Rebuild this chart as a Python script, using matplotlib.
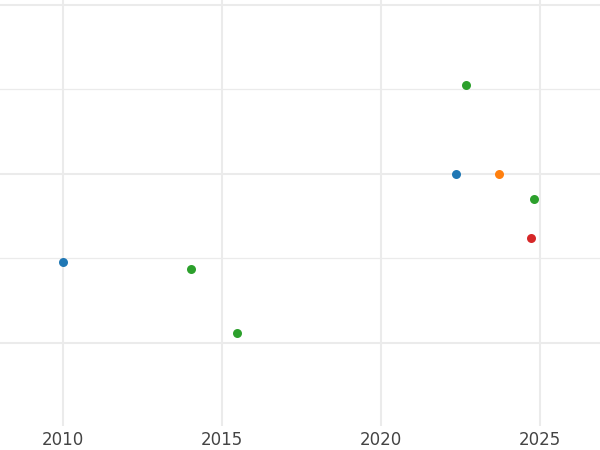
import matplotlib
matplotlib.use("Agg")
from matplotlib import pyplot as plt
from matplotlib.ticker import MultipleLocator

# points per colour group (year, value)
blue_x = [2010.0, 2022.36]
blue_y = [0.476, 1.0]
orange_x = [2023.71]
orange_y = [1.0]
green_x = [2014.03, 2015.47, 2022.67, 2024.82]
green_y = [0.438, 0.059, 1.527, 0.850]
red_x = [2024.71]
red_y = [0.622]

year_ticks = [2010, 2015, 2020, 2025]

fig = plt.figure(figsize=(6, 4.5), dpi=100)
ax = fig.add_axes([0, 24 / 450, 1, 426 / 450])

for xs, ys, c in [(blue_x, blue_y, "#1f77b4"), (orange_x, orange_y, "#ff7f0e"),
                  (green_x, green_y, "#2ca02c"), (red_x, red_y, "#d62728")]:
    ax.scatter(xs, ys, s=42, color=c, linewidths=0, zorder=3)

ax.set_xlim(2008.01, 2026.89)
ax.set_ylim(-0.493, 2.03)
ax.set_xticks(year_ticks)
ax.yaxis.set_major_locator(MultipleLocator(1))
ax.yaxis.set_minor_locator(MultipleLocator(0.5))
ax.grid(True, which="major", axis="y", color="#ebebeb", linewidth=1.5)
ax.grid(True, which="minor", axis="y", color="#ebebeb", linewidth=0.9)
ax.grid(True, which="major", axis="x", color="#ebebeb", linewidth=1.5)
ax.set_axisbelow(True)
ax.tick_params(axis="x", length=0, labelsize=12, labelcolor="#444444", pad=3.5)
ax.tick_params(axis="y", which="both", length=0, labelleft=False)
for s in ax.spines.values():
    s.set_visible(False)

fig.savefig("out.png", dpi=100)
